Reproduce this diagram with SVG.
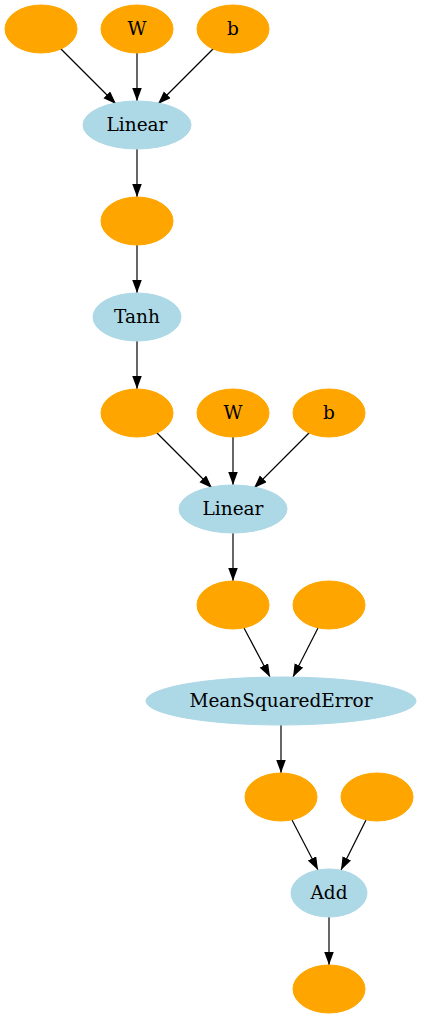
<svg xmlns="http://www.w3.org/2000/svg" width="421" height="1019" viewBox="0 0 421 1019">
<style>
.o{fill:#ffa500;stroke:#ffa500}
.f{fill:#add8e6;stroke:#add8e6}
text{font-family:"DejaVu Serif","Liberation Serif",serif;font-size:18.5px;fill:#000;text-anchor:middle}
.e line{stroke:#000;stroke-width:1.2;marker-end:url(#ah)}
</style>
<defs>
<marker id="ah" markerUnits="userSpaceOnUse" markerWidth="14" markerHeight="10" refX="13" refY="4.75" orient="auto">
<path d="M0,0 L13,4.75 L0,9.5 z" fill="#000"/>
</marker>
</defs>
<rect width="421" height="1019" fill="#fff"/>
<g id="edges" class="e">
<line x1="60" y1="48" x2="116" y2="104"/>
<line x1="137" y1="53" x2="137" y2="101"/>
<line x1="214" y1="48" x2="158" y2="104"/>
<line x1="137" y1="149" x2="137" y2="197"/>
<line x1="137" y1="245" x2="137" y2="293"/>
<line x1="137" y1="341" x2="137" y2="389"/>
<line x1="156" y1="432" x2="212" y2="488"/>
<line x1="233" y1="437" x2="233" y2="485"/>
<line x1="310" y1="432" x2="254" y2="488"/>
<line x1="233" y1="533" x2="233" y2="581"/>
<line x1="244" y1="628" x2="270" y2="677"/>
<line x1="318" y1="628" x2="293" y2="677"/>
<line x1="281" y1="725" x2="281" y2="773"/>
<line x1="292" y1="820" x2="318" y2="870"/>
<line x1="366" y1="820" x2="341" y2="870"/>
<line x1="329" y1="917" x2="329" y2="965"/>
</g>
<g id="n1"><ellipse class="o" cx="41" cy="29" rx="36" ry="24"/></g>
<g id="n2"><ellipse class="o" cx="137" cy="29" rx="36" ry="24"/><text x="137" y="34.5">W</text></g>
<g id="n3"><ellipse class="o" cx="233" cy="29" rx="36" ry="24"/><text x="233" y="34.5">b</text></g>
<g id="n4"><ellipse class="f" cx="137" cy="125" rx="54" ry="24"/><text x="137" y="130.5">Linear</text></g>
<g id="n5"><ellipse class="o" cx="137" cy="221" rx="36" ry="24"/></g>
<g id="n6"><ellipse class="f" cx="137" cy="317" rx="44" ry="24"/><text x="137" y="322.5">Tanh</text></g>
<g id="n7"><ellipse class="o" cx="137" cy="413" rx="36" ry="24"/></g>
<g id="n8"><ellipse class="o" cx="233" cy="413" rx="36" ry="24"/><text x="233" y="418.5">W</text></g>
<g id="n9"><ellipse class="o" cx="329" cy="413" rx="36" ry="24"/><text x="329" y="418.5">b</text></g>
<g id="n10"><ellipse class="f" cx="233" cy="509" rx="54" ry="24"/><text x="233" y="514.5">Linear</text></g>
<g id="n11"><ellipse class="o" cx="233" cy="605" rx="36" ry="24"/></g>
<g id="n12"><ellipse class="o" cx="329" cy="605" rx="36" ry="24"/></g>
<g id="n13"><ellipse class="f" cx="281" cy="701" rx="135" ry="24"/><text x="281" y="706.5">MeanSquaredError</text></g>
<g id="n14"><ellipse class="o" cx="281" cy="797" rx="36" ry="24"/></g>
<g id="n15"><ellipse class="o" cx="377" cy="797" rx="36" ry="24"/></g>
<g id="n16"><ellipse class="f" cx="329" cy="893" rx="38" ry="24"/><text x="329" y="898.5">Add</text></g>
<g id="n17"><ellipse class="o" cx="329" cy="989" rx="36" ry="24"/></g>
</svg>
